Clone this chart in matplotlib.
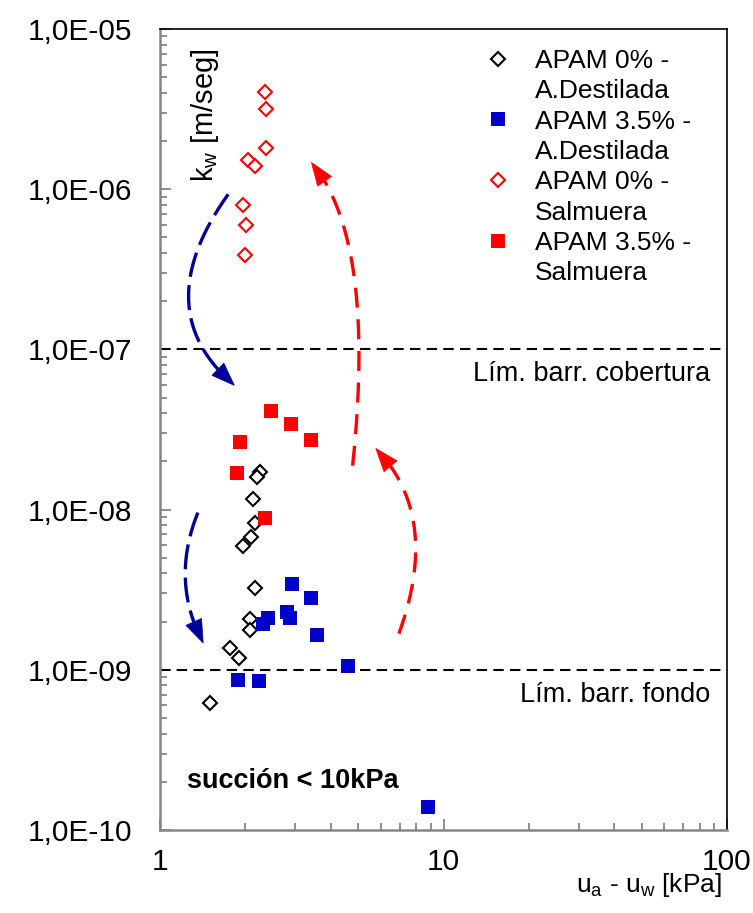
import matplotlib
matplotlib.use("Agg")
import numpy as np
import matplotlib.pyplot as plt
from matplotlib.lines import Line2D
from matplotlib.patches import Polygon
from matplotlib.transforms import IdentityTransform
from matplotlib.ticker import FixedLocator, FuncFormatter, LogLocator, NullFormatter

plt.rcParams['font.family'] = ['Liberation Sans', 'DejaVu Sans']
plt.rcParams['mathtext.fontset'] = 'custom'
plt.rcParams['mathtext.rm'] = 'Liberation Sans'
plt.rcParams['mathtext.it'] = 'Liberation Sans:italic'

# ---- data ----
apam0_dest_x = [2.26, 2.19, 2.13, 2.17, 2.10, 1.97, 2.16, 2.07, 2.07, 1.77, 1.90, 1.50]
apam0_dest_y = [1.71e-8, 1.60e-8, 1.17e-8, 8.2e-9, 6.7e-9, 5.9e-9, 3.25e-9, 2.09e-9,
                1.76e-9, 1.37e-9, 1.19e-9, 6.19e-10]

apam35_dest_x = [2.92, 3.42, 2.81, 2.88, 2.41, 2.31, 3.57, 4.62, 1.89, 2.24, 8.79]
apam35_dest_y = [3.41e-9, 2.79e-9, 2.28e-9, 2.12e-9, 2.12e-9, 1.92e-9, 1.66e-9, 1.06e-9,
                 8.66e-10, 8.53e-10, 1.40e-10]

apam0_salm_x = [2.35, 2.37, 2.37, 2.05, 2.17, 1.97, 2.01, 2.00]
apam0_salm_y = [4.02e-6, 3.16e-6, 1.80e-6, 1.52e-6, 1.39e-6, 7.94e-7, 6.0e-7, 3.9e-7]

apam35_salm_x = [2.47, 2.89, 3.42, 1.91, 1.87, 2.35]
apam35_salm_y = [4.10e-8, 3.44e-8, 2.71e-8, 2.64e-8, 1.69e-8, 8.9e-9]

limits_y = [1e-7, 1e-9]
limit_labels = ["Lím. barr. cobertura", "Lím. barr. fondo"]

legend_lines = [["APAM 0% -", "A.Destilada"], ["APAM 3.5% -", "A.Destilada"],
                ["APAM 0% -", "Salmuera"], ["APAM 3.5% -", "Salmuera"]]

x_ticks = [1, 10, 100]
y_ticks = [1e-10, 1e-9, 1e-8, 1e-7, 1e-6, 1e-5]

# annotation arrows: start, tip (data coords), tangent angles at start / end
arrow_start = [(1.74, 9.3e-7), (1.36, 9.58e-9), (4.78, 1.88e-8), (6.96, 1.68e-9)]
arrow_tip = [(1.83, 5.96e-8), (1.42, 1.47e-9), (3.42, 1.47e-6), (5.77, 2.41e-8)]
arrow_angles = [(54.5, 139.4), (68, 118), (84, 130), (70, 134)]
arrow_colors = ['#000099', '#000099', '#FF0000', '#FF0000']
arrow_dashes = [(7.5, 2.5), (7.5, 2.5), (6.0, 3.5), (6.0, 3.5)]

W, H = 753, 913
fig = plt.figure(figsize=(W / 100, H / 100), dpi=100)
ax = fig.add_axes([160 / W, 1 - 830 / H, (727 - 160) / W, (830 - 29) / H])
ax.set_xscale('log')
ax.set_yscale('log')
ax.set_xlim(1, 100)
ax.set_ylim(1e-10, 1e-5)

blue = '#0000CC'
red = '#FF0000'

ax.plot(apam0_dest_x, apam0_dest_y, linestyle='none', marker='D', ms=6.8,
        mfc='white', mec='black', mew=1.5, zorder=4)
ax.plot(apam35_dest_x, apam35_dest_y, linestyle='none', marker='s', ms=10,
        mfc=blue, mec=blue, mew=0, zorder=4)
ax.plot(apam0_salm_x, apam0_salm_y, linestyle='none', marker='D', ms=6.8,
        mfc='white', mec=red, mew=1.5, zorder=4)
ax.plot(apam35_salm_x, apam35_salm_y, linestyle='none', marker='s', ms=10,
        mfc=red, mec=red, mew=0, zorder=4)

for yv, lab in zip(limits_y, limit_labels):
    ax.axhline(yv, color='black', lw=1.5, linestyle=(0, (5, 3)), zorder=2)
    ax.annotate(lab, xy=(1, yv), xycoords=('axes fraction', 'data'),
                xytext=(-17, -32), textcoords='offset pixels',
                ha='right', va='baseline', fontsize=19.5)


# curved dashed arrows (quadratic Bezier built in display space)
def _intersect(p, a, q, b):
    da = np.array([np.cos(np.radians(a)), np.sin(np.radians(a))])
    db = np.array([np.cos(np.radians(b)), np.sin(np.radians(b))])
    M = np.column_stack([da, -db])
    t, _ = np.linalg.solve(M, q - p)
    return p + t * da


head_len, head_hw = 23.0, 8.5
for s, t, (aA, aB), c, dsh in zip(arrow_start, arrow_tip, arrow_angles,
                                  arrow_colors, arrow_dashes):
    P0 = ax.transData.transform(s)
    P2 = ax.transData.transform(t)
    C = _intersect(P0, aA, P2, aB)
    tt = np.linspace(0, 1, 600)[:, None]
    B = (1 - tt) ** 2 * P0 + 2 * (1 - tt) * tt * C + tt ** 2 * P2
    d = np.hypot(*(B - P2).T)
    idx = np.where(d >= head_len)[0][-1]
    body = B[:idx + 1]
    ax.add_line(Line2D(body[:, 0], body[:, 1], transform=IdentityTransform(),
                       color=c, lw=2.4, linestyle=(0, dsh), solid_capstyle='butt',
                       dash_capstyle='butt', zorder=3))
    base = B[idx]
    u = (P2 - base) / np.hypot(*(P2 - base))
    n = np.array([-u[1], u[0]])
    ax.add_patch(Polygon([P2, base + n * head_hw, base - n * head_hw], closed=True,
                         transform=IdentityTransform(), facecolor=c, edgecolor=c,
                         lw=0.5, zorder=3))

ax.text(187, H - 788, 'succión < 10kPa', transform=IdentityTransform(), fontsize=19.5,
        fontweight='bold', va='baseline', ha='left')

ax.text(205, H - 115, r'k$_\mathrm{w}$ [m/seg]', transform=IdentityTransform(),
        rotation=90, fontsize=21, ha='center', va='center')

ax.set_xlabel(r'u$_\mathrm{a}$ - u$_\mathrm{w}$ [kPa]', fontsize=19)
ax.xaxis.set_label_coords((722 - 160) / 567, -(885 - 830) / 801)
ax.xaxis.label.set_ha('right')
ax.xaxis.label.set_va('center')

# ticks
ax.xaxis.set_major_locator(FixedLocator(x_ticks))
ax.xaxis.set_major_formatter(FuncFormatter(lambda v, p: f"{v:g}"))
ax.xaxis.set_minor_locator(LogLocator(base=10, subs=range(2, 10)))
ax.xaxis.set_minor_formatter(NullFormatter())
ax.yaxis.set_major_locator(FixedLocator(y_ticks))
ax.yaxis.set_major_formatter(FuncFormatter(lambda v, p: f"{v:.1E}".replace('.', ',')))
ax.yaxis.set_minor_locator(LogLocator(base=10, subs=range(2, 10)))
ax.yaxis.set_minor_formatter(NullFormatter())

gray = '#868686'
ax.tick_params(which='both', direction='in', color=gray, width=1.3,
               top=False, right=False, labelsize=21.5)
ax.tick_params(which='major', length=8)
ax.tick_params(which='minor', length=5)
ax.tick_params(axis='y', pad=20)
ax.tick_params(axis='x', pad=13)
for side in ['left', 'bottom']:
    ax.spines[side].set_color(gray)
    ax.spines[side].set_linewidth(1.8)
for side in ['top', 'right']:
    ax.spines[side].set_color('black')
    ax.spines[side].set_linewidth(1.2)

# legend (two text rows per entry, marker on first row)
proto = [
    dict(marker='D', ms=6.8, mfc='white', mec='black', mew=1.5),
    dict(marker='s', ms=10, mfc=blue, mec=blue, mew=0),
    dict(marker='D', ms=6.8, mfc='white', mec=red, mew=1.5),
    dict(marker='s', ms=10, mfc=red, mec=red, mew=0),
]
handles, labels = [], []
for p, lines in zip(proto, legend_lines):
    handles.append(Line2D([], [], linestyle='none', **p))
    labels.append(lines[0])
    handles.append(Line2D([], [], linestyle='none'))
    labels.append(lines[1])
leg = ax.legend(handles, labels, loc='upper left',
                bbox_to_anchor=(485 / W, 1 - 49 / H), bbox_transform=fig.transFigure,
                frameon=False, fontsize=19, handlelength=1.0, handletextpad=0.9,
                labelspacing=0.24, borderpad=0, borderaxespad=0)

fig.savefig('out.png', dpi=100)
